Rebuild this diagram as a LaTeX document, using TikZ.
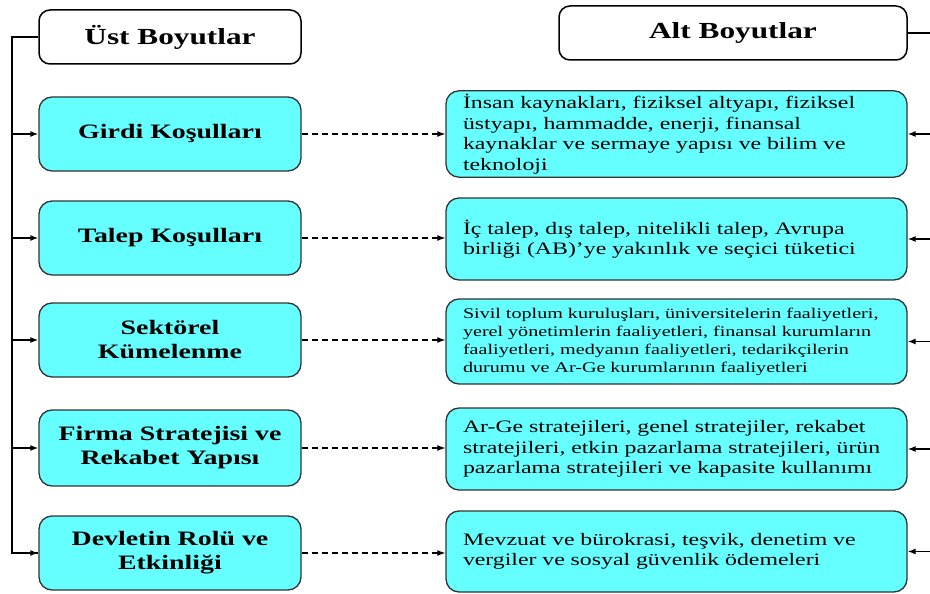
\documentclass[tikz,border=0pt]{standalone}
\usepackage{fontspec}
\setmainfont[FakeStretch=1.36]{Liberation Serif}
\usetikzlibrary{positioning}
\usetikzlibrary{arrows.meta}
\definecolor{boxcyan}{HTML}{66FFFF}
\definecolor{boxline}{HTML}{333333}

\begin{document}
\begin{tikzpicture}[x=1pt,y=-1pt,
  head/.style={draw=black,line width=1.5pt,rounded corners=11pt,minimum height=54pt,font=\fontsize{23}{27}\selectfont\bfseries},
  ustbox/.style={draw=boxline,fill=boxcyan,line width=1.3pt,rounded corners=13pt,minimum width=262pt,minimum height=74pt,align=center,font=\fontsize{20.5}{24}\selectfont\bfseries},
  altbox/.style={draw=boxline,fill=boxcyan,line width=1.3pt,rounded corners=13pt,inner xsep=17pt,text width=427pt,align=left,font=\fontsize{17.5}{20.5}\selectfont},
  link/.style={line width=1.2pt,dash pattern=on 6pt off 4pt,-{Latex[length=8pt,width=6pt]}},
  feed/.style={line width=1.3pt,-{Latex[length=8pt,width=6pt]}}
]
\useasboundingbox (0,0) rectangle (930,594);
\node [head,minimum width=262pt] (ust) at (170,37) {Üst Boyutlar};
\node [head,minimum width=348pt] (alt) at (733,33) {Alt Boyutlar};

\node [ustbox] (girdi) at (170,134) {Girdi Koşulları};
\node [ustbox] (talep) at (170,238) {Talep Koşulları};
\node [ustbox] (sektor) at (170,340) {Sektörel\\Kümelenme};
\node [ustbox,minimum height=76pt] (firma) at (170,448) {Firma Stratejisi ve\\Rekabet Yapısı};
\node [ustbox] (devlet) at (170,553) {Devletin Rolü ve\\Etkinliği};

\node [altbox,minimum height=84pt] (girdialt) at (676.5,134) {İnsan kaynakları, fiziksel altyapı, fiziksel\\üstyapı, hammadde, enerji, finansal\\kaynaklar ve sermaye yapısı ve bilim ve\\teknoloji};
\node [altbox,minimum height=82pt] (talepalt) at (676.5,239) {İç talep, dış talep, nitelikli talep, Avrupa\\birliği (AB)’ye yakınlık ve seçici tüketici};
\node [altbox,minimum height=85pt,font=\fontsize{14.8}{18}\selectfont] (sektoralt) at (676.5,341.5) {Sivil toplum kuruluşları, üniversitelerin faaliyetleri,\\yerel yönetimlerin faaliyetleri, finansal kurumların\\faaliyetleri, medyanın faaliyetleri, tedarikçilerin\\durumu ve Ar-Ge kurumlarının faaliyetleri};
\node [altbox,minimum height=82pt] (firmaalt) at (676.5,449) {Ar-Ge stratejileri, genel stratejiler, rekabet\\stratejileri, etkin pazarlama stratejileri, ürün\\pazarlama stratejileri ve kapasite kullanımı};
\node [altbox,minimum height=81pt] (devletalt) at (676.5,551.5) {Mevzuat ve bürokrasi, teşvik, denetim ve\\vergiler ve sosyal güvenlik ödemeleri};

\coordinate (ltop) at (12,37);
\coordinate (lbot) at (12,553);
\coordinate (rtop) at (932,33);
\coordinate (rbot) at (932,552);
\draw [line width=1.8pt] (ust.west) -- (ltop) -- (lbot) -- (devlet.west);
\draw [line width=1.5pt] (alt.east) -- (rtop) -- (rbot);

\draw [feed] (ltop |- girdi.west) -- (girdi.west);
\draw [feed] (ltop |- talep.west) -- (talep.west);
\draw [feed] (ltop |- sektor.west) -- (sektor.west);
\draw [feed] (ltop |- firma.west) -- (firma.west);
\draw [feed] (ltop |- devlet.west) -- (devlet.west);

\draw [feed] (rtop |- girdialt.east) -- (girdialt.east);
\draw [feed] (rtop |- talepalt.east) -- (talepalt.east);
\draw [feed] (rtop |- sektoralt.east) -- (sektoralt.east);
\draw [feed] (rtop |- firmaalt.east) -- (firmaalt.east);
\draw [feed] (rtop |- devletalt.east) -- (devletalt.east);

\draw [link] (girdi.east) -- (girdi.east -| girdialt.west);
\draw [link] (talep.east) -- (talep.east -| talepalt.west);
\draw [link] (sektor.east) -- (sektor.east -| sektoralt.west);
\draw [link] (firma.east) -- (firma.east -| firmaalt.west);
\draw [link] (devlet.east) -- (devlet.east -| devletalt.west);
\end{tikzpicture}
\end{document}
